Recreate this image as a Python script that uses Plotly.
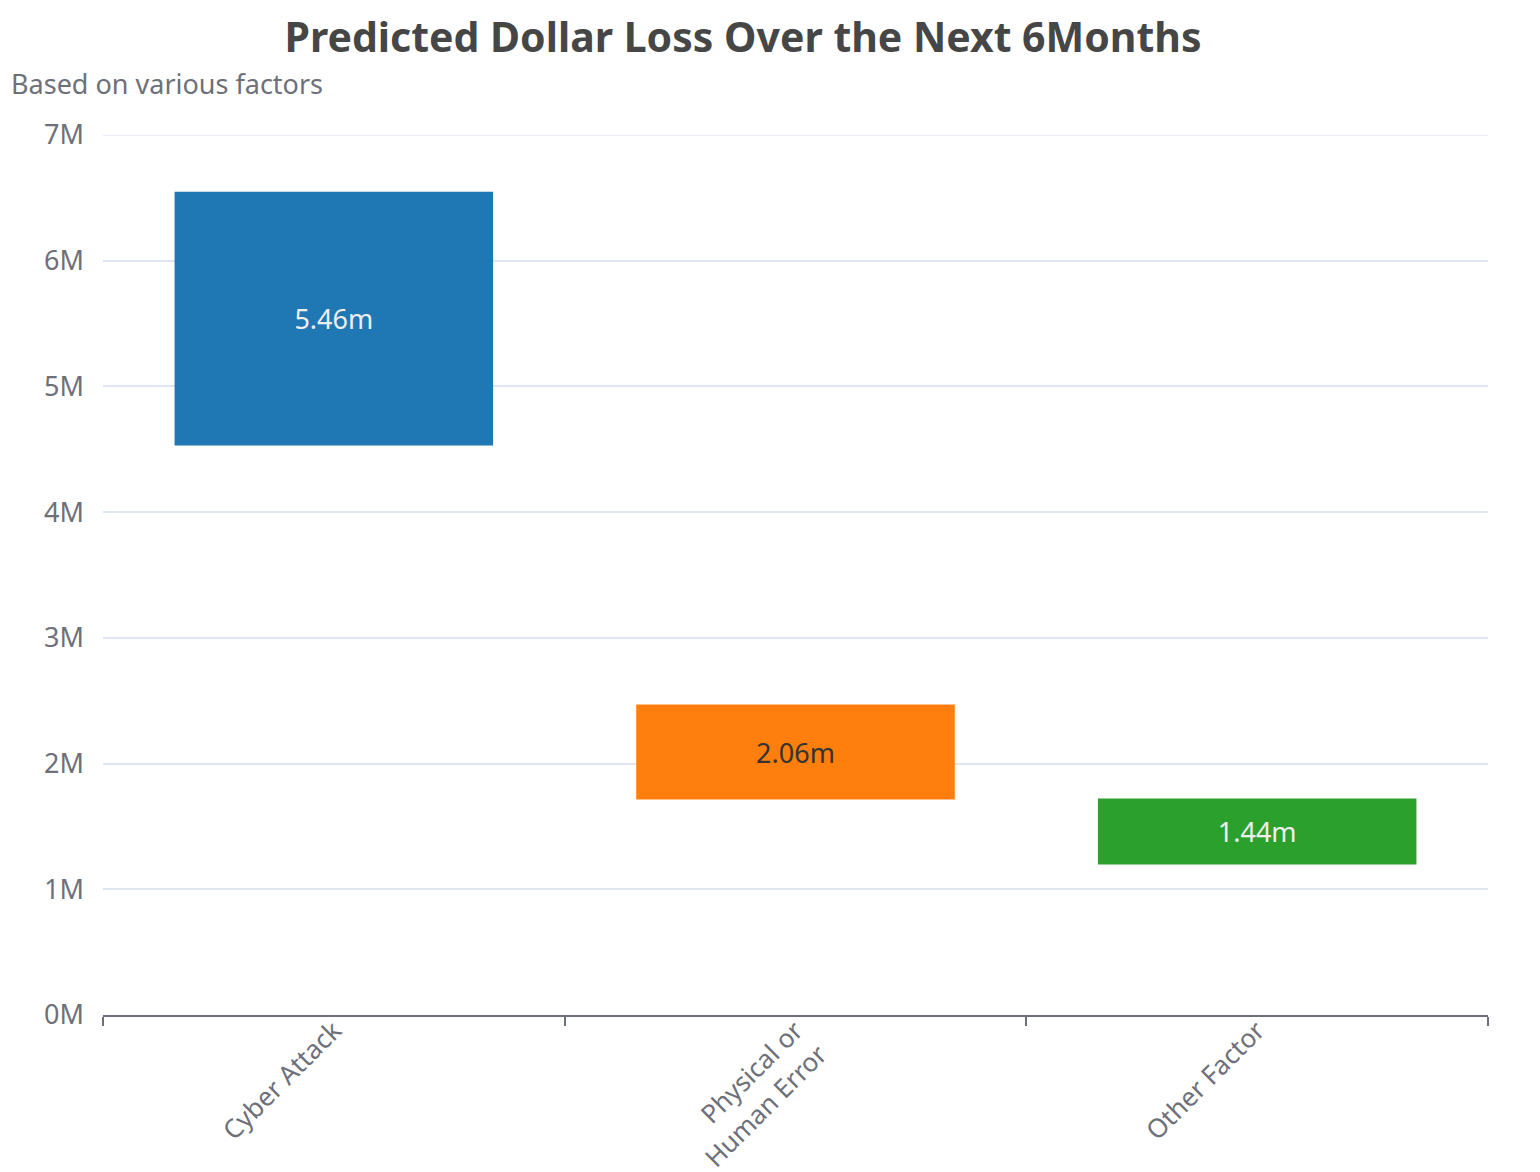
import plotly.graph_objects as go

categories = ["Cyber Attack", "Physical or<br>Human Error", "Other Factor"]
bar_low = [4.53, 1.714, 1.197]
bar_high = [6.549, 2.470, 1.722]
labels = ["5.46m", "2.06m", "1.44m"]
colors = ["#1f77b4", "#ff7f0e", "#2ca02c"]
label_colors = ["#eeeeee", "#333333", "#eeeeee"]
y_tickvals = [0, 1, 2, 3, 4, 5, 6, 7]
y_ticktext = ["0M", "1M", "2M", "3M", "4M", "5M", "6M", "7M"]
y_max = 7

heights = [h - l for h, l in zip(bar_high, bar_low)]

font_family = "Noto Sans, Open Sans, sans-serif"

fig = go.Figure()
fig.add_trace(go.Bar(
    x=categories,
    y=heights,
    base=bar_low,
    marker=dict(color=colors, line=dict(width=0)),
    text=labels,
    textposition="inside",
    insidetextanchor="middle",
    textangle=0,
    textfont=dict(size=27, color=label_colors, family=font_family),
    hoverinfo="skip",
))

fig.update_layout(
    width=1540,
    height=1172,
    paper_bgcolor="white",
    plot_bgcolor="white",
    showlegend=False,
    bargap=0.31,
    margin=dict(l=95, r=60, t=127, b=165, autoexpand=False),
    font=dict(family=font_family, color="#6e7079"),
    title=dict(
        text="<b>Predicted Dollar Loss Over the Next 6Months</b>",
        x=735 / 1540, xanchor="center", xref="container",
        y=1 - 30 / 1172, yanchor="middle", yref="container",
        font=dict(size=41, color="#464646", family=font_family),
    ),
    annotations=[dict(
        text="Based on various factors",
        xref="paper", yref="paper",
        x=(1 - 95) / 1385, y=1 + 52 / 880,
        xanchor="left", yanchor="middle",
        showarrow=False,
        font=dict(size=27, color="#6e7079", family=font_family),
    )],
    shapes=[dict(
        type="line", xref="paper", yref="y",
        x0=0, x1=1, y0=y_max, y1=y_max,
        line=dict(color="#e0e6f1", width=1.5),
        layer="below",
    )],
)

fig.update_xaxes(
    type="category",
    automargin=False,
    tickangle=-45,
    tickson="boundaries",
    ticks="outside",
    ticklen=9,
    tickwidth=1.5,
    tickcolor="#6e7079",
    showline=True,
    linecolor="#6e7079",
    linewidth=2,
    showgrid=False,
    ticklabelstandoff=-12,
    tickfont=dict(size=26, color="#6e7079", family=font_family),
)

fig.update_yaxes(
    automargin=False,
    range=[0, y_max],
    tickvals=y_tickvals,
    ticktext=y_ticktext,
    showgrid=True,
    gridcolor="#e0e6f1",
    gridwidth=1.5,
    zeroline=False,
    showline=False,
    ticks="",
    ticklabelstandoff=18,
    tickfont=dict(size=27, color="#6e7079", family=font_family),
)

fig.write_html("out.html")
